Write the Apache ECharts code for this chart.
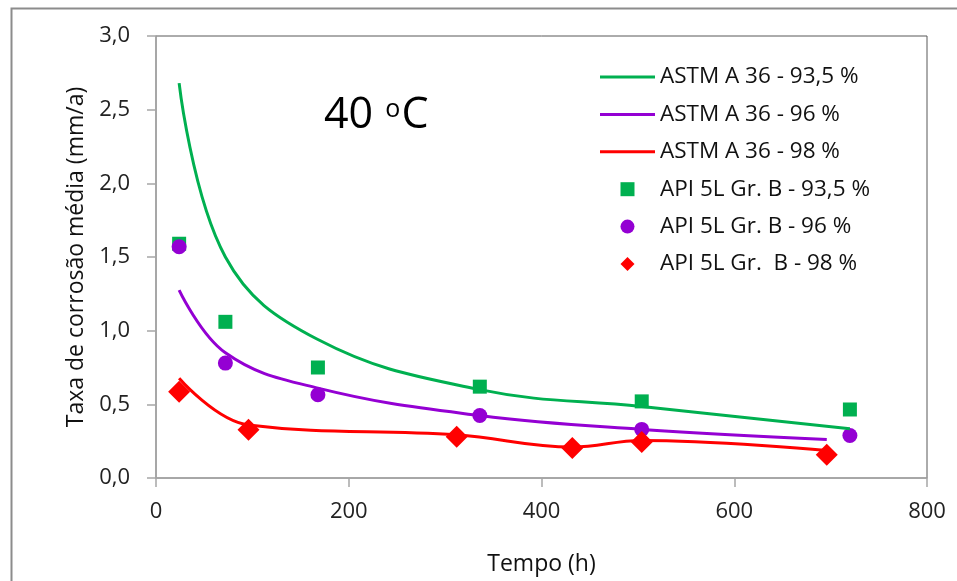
<!DOCTYPE html>
<html>
<head>
<meta charset="utf-8" />
<title>Taxa de corrosão 40 ºC</title>
<script type="text/javascript" src="https://cdn.jsdelivr.net/npm/echarts@6/dist/echarts.min.js"></script>
<style>
  html, body { margin: 0; padding: 0; background: #fff; }
  #chart { width: 957px; height: 581px; }
</style>
</head>
<body>
<div id="chart"></div>
<script type="text/javascript">
// linhas suavizadas (ASTM A 36)
var tempoA935 = [24, 72, 168, 336, 504, 720];
var taxaA935 = [2.68, 1.50, 0.94, 0.60, 0.485, 0.335];
var tempoA96 = [24, 72, 168, 336, 504, 696];
var taxaA96 = [1.275, 0.85, 0.61, 0.424, 0.33, 0.262];
var tempoA98 = [24, 96, 312, 432, 504, 696];
var taxaA98 = [0.677, 0.36, 0.293, 0.21, 0.255, 0.187];

// pontos (API 5L Gr. B)
var tempoB935 = [24, 72, 168, 336, 504, 720];
var taxaB935 = [1.59, 1.06, 0.75, 0.62, 0.52, 0.465];
var tempoB96 = [24, 72, 168, 336, 504, 720];
var taxaB96 = [1.57, 0.78, 0.565, 0.424, 0.33, 0.288];
var tempoB98 = [24, 96, 312, 432, 504, 696];
var taxaB98 = [0.586, 0.327, 0.28, 0.203, 0.245, 0.158];

var nomes = ['ASTM A 36 - 93,5 %', 'ASTM A 36 - 96 %', 'ASTM A 36 - 98 %',
             'API 5L Gr. B - 93,5 %', 'API 5L Gr. B - 96 %', 'API 5L Gr.  B - 98 %'];
var xTicks = ['0', '200', '400', '600', '800'];
var yTicks = ['0,0', '0,5', '1,0', '1,5', '2,0', '2,5', '3,0'];

var verde = '#00B050', roxo = '#9400D3', vermelho = '#FF0000';
var fonte = '"Open Sans", Lato, sans-serif';

function pares(xs, ys) {
    return xs.map(function (x, i) { return [x, ys[i]]; });
}

var quadrado = 'path://M0,0L10,0L10,10L0,10Z';
var losango = 'path://M0,-10L10,0L0,10L-10,0Z';
var traco = 'path://M0,0L55,0L55,3L0,3Z';

var myChart = echarts.init(document.getElementById('chart'));

function linha(nome, cor, xs, ys) {
    return {
        name: nome, type: 'line', data: pares(xs, ys),
        smooth: 0.4, symbol: 'none',
        lineStyle: { color: cor, width: 3 },
        itemStyle: { color: cor }
    };
}
function pontos(nome, cor, simbolo, tam, xs, ys) {
    return {
        name: nome, type: 'scatter', data: pares(xs, ys),
        symbol: simbolo, symbolSize: tam,
        itemStyle: { color: cor, opacity: 1 }
    };
}

myChart.setOption({
    animation: false,
    textStyle: { fontFamily: fonte },
    grid: {
        left: 156, top: 36, right: 30, bottom: 102,
        show: true, borderColor: '#595959', borderWidth: 1
    },
    graphic: [
        {
            type: 'rect', left: 9, top: 6, silent: true,
            shape: { width: 1200, height: 1000 },
            style: { fill: 'none', stroke: '#8C8C8C', lineWidth: 2 }
        },
        {
            type: 'text', left: 324, top: 88,
            style: {
                text: '{a|40 }{o|o}{a|C}',
                rich: {
                    a: { fontSize: 43, fontFamily: fonte, fill: '#000', lineHeight: 56 },
                    o: { fontSize: 25, fontFamily: fonte, fill: '#000', verticalAlign: 'top', lineHeight: 56, padding: [9, 1, 0, 1] }
                }
            }
        }
    ],
    legend: {
        orient: 'vertical', left: 600, top: 65, padding: 0,
        itemWidth: 55, itemHeight: 14, itemGap: 13.4,
        textStyle: { fontSize: 22.5, color: '#111', fontFamily: fonte, lineHeight: 24 },
        data: [
            { name: nomes[0], icon: traco }, { name: nomes[1], icon: traco }, { name: nomes[2], icon: traco },
            { name: nomes[3], icon: quadrado },
            { name: nomes[4], icon: 'circle' },
            { name: nomes[5], icon: losango }
        ]
    },
    xAxis: {
        type: 'value', min: 0, max: 800, interval: 200,
        name: 'Tempo (h)', nameLocation: 'middle', nameGap: 75,
        nameTextStyle: { fontSize: 23, color: '#111', fontFamily: fonte },
        axisLine: { lineStyle: { color: '#A6A6A6', width: 1.5 } },
        axisTick: { length: 9, lineStyle: { color: '#A6A6A6', width: 1.5 } },
        axisLabel: {
            fontSize: 22, color: '#222', margin: 23,
            formatter: function (v) { return xTicks[Math.round(v / 200)]; }
        },
        splitLine: { show: false }
    },
    yAxis: {
        type: 'value', min: 0, max: 3, interval: 0.5,
        name: 'Taxa de corrosão média (mm/a)', nameLocation: 'middle', nameGap: 68,
        nameTextStyle: { fontSize: 23, color: '#111', fontFamily: fonte },
        axisLine: { show: true, lineStyle: { color: '#A6A6A6', width: 1.5 } },
        axisTick: { show: true, length: 9, lineStyle: { color: '#A6A6A6', width: 1.5 } },
        axisLabel: {
            fontSize: 22, color: '#222', margin: 26,
            formatter: function (v) { return yTicks[Math.round(v / 0.5)]; }
        },
        splitLine: { show: false }
    },
    series: [
        linha(nomes[0], verde, tempoA935, taxaA935),
        linha(nomes[1], roxo, tempoA96, taxaA96),
        linha(nomes[2], vermelho, tempoA98, taxaA98),
        pontos(nomes[3], verde, quadrado, 14, tempoB935, taxaB935),
        pontos(nomes[4], roxo, 'circle', 15, tempoB96, taxaB96),
        pontos(nomes[5], vermelho, losango, 22, tempoB98, taxaB98)
    ]
});
</script>
</body>
</html>
